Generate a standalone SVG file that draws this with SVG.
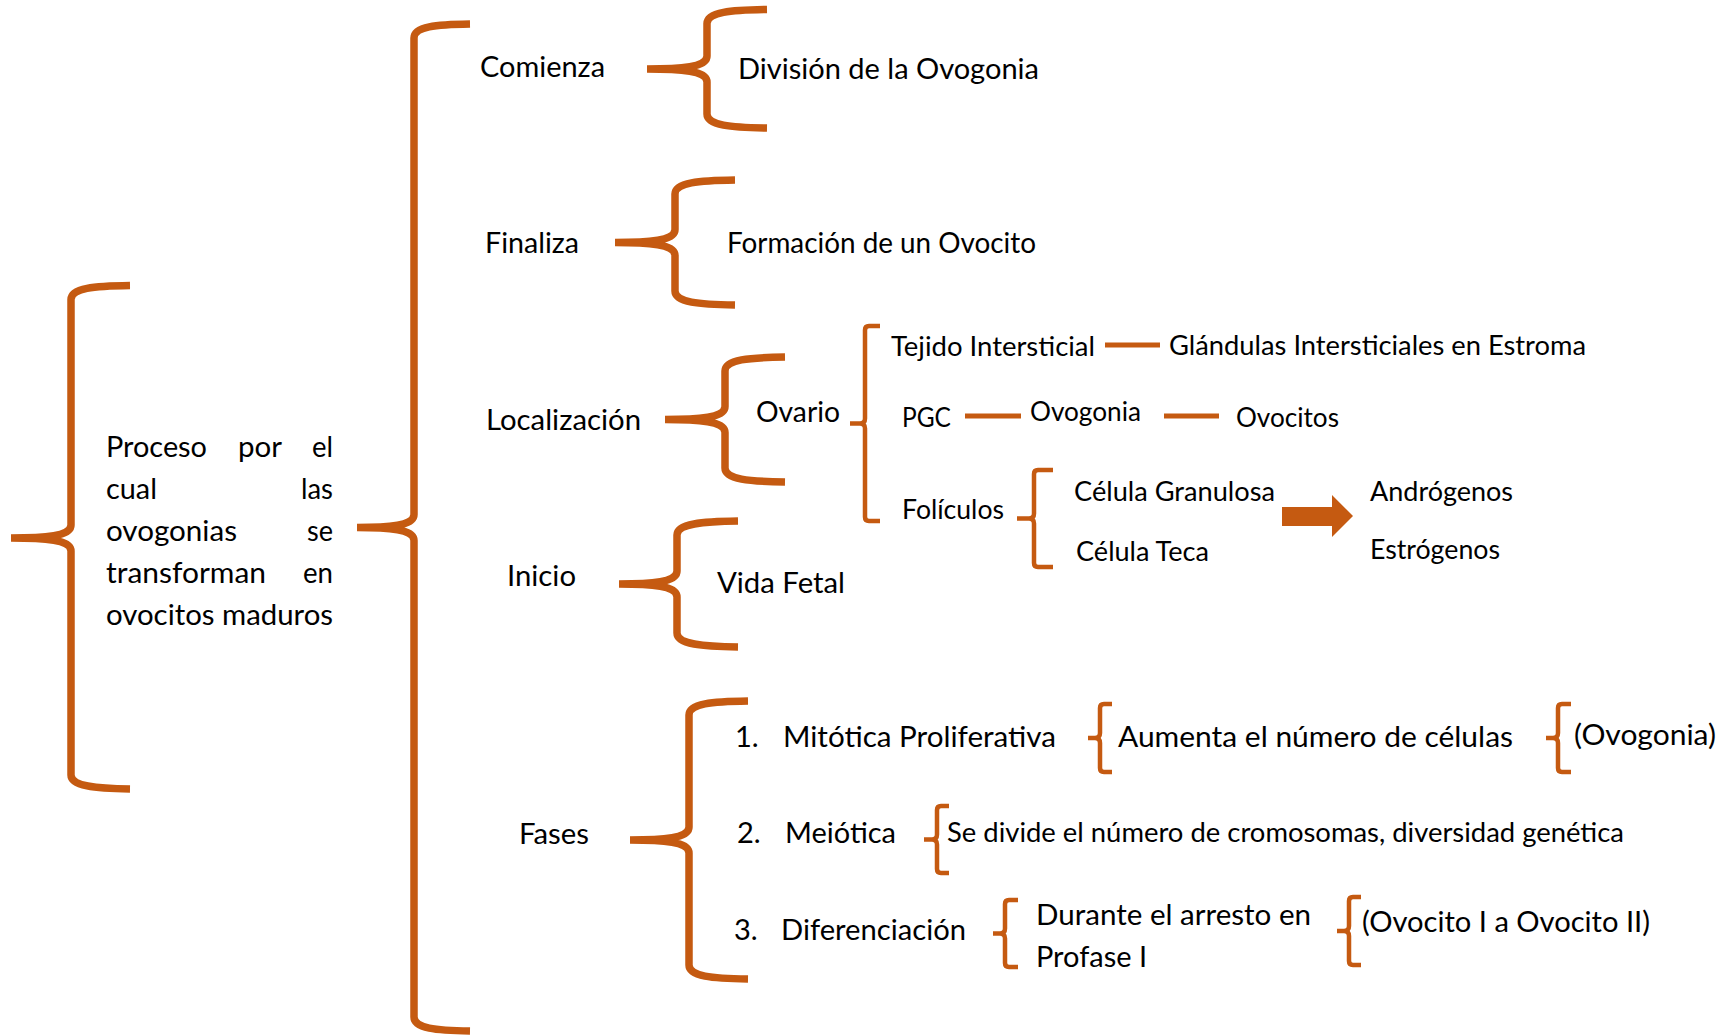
<svg xmlns="http://www.w3.org/2000/svg" width="1733" height="1036" viewBox="0 0 1733 1036">
<style>
.t{font-family:Lato,"Liberation Sans",Arial,sans-serif;font-size:28px;fill:#000}
.s{font-size:26px}
.f{font-size:29px}
.b{fill:none;stroke:#C55A11;stroke-width:7.5}
.n{fill:none;stroke:#C55A11;stroke-width:4.5}
.l{stroke:#C55A11;stroke-width:5}
.a{fill:#C55A11}
</style>
<rect width="1733" height="1036" fill="#fff"/>
<g id="connectors">
<path class="b" d="M130,285.5 C94,286 71,288 71,299.5 L71,525 C71,534 57,538 11,538 M11,538 C57,538 71,542 71,551 L71,775 C71,786 94,788.5 130,789"/>
<path class="b" d="M470,24 C436,24.5 414,26.5 414,38 L414,514.5 C414,523.5 400,527.5 357,527.5 M357,527.5 C400,527.5 414,531.5 414,540.5 L414,1017 C414,1028.5 436,1030.5 470,1031"/>
<path class="b" d="M767,9.5 C731,10 707,12 707,23.5 L707,56 C707,65 693,69 647,69 M647,69 C693,69 707,73 707,82 L707,114 C707,125.5 731,127.5 767,128"/>
<path class="b" d="M735,180 C699,180.5 675,182.5 675,194 L675,229.5 C675,238.5 661,242.5 615,242.5 M615,242.5 C661,242.5 675,246.5 675,255.5 L675,291 C675,302.5 699,304.5 735,305"/>
<path class="b" d="M785,357 C749,357.5 725,359.5 725,371 L725,406.5 C725,415.5 711,419.5 665,419.5 M665,419.5 C711,419.5 725,423.5 725,432.5 L725,468 C725,479.5 749,481.5 785,482"/>
<path class="b" d="M738,521 C702,521.5 677,523.5 677,535 L677,571 C677,580 663,584 619,584 M619,584 C663,584 677,588 677,597 L677,633 C677,644.5 702,646.5 738,647"/>
<path class="b" d="M748,701 C712,701.5 689,703.5 689,715 L689,827 C689,836 675,840 630,840 M630,840 C675,840 689,844 689,853 L689,965 C689,976.5 712,978.5 748,979"/>
<path class="n" d="M880,326 H869 Q865,326 865,330 V418.5 Q865,423.5 860,423.5 H850 M860,423.5 Q865,423.5 865,428.5 V517 Q865,521 869,521 H880"/>
<path class="n" d="M1053,470 H1038 Q1034,470 1034,474 V513.5 Q1034,518.5 1029,518.5 H1017 M1029,518.5 Q1034,518.5 1034,523.5 V563 Q1034,567 1038,567 H1053"/>
<path class="n" d="M1112,704 H1104 Q1100,704 1100,708 V733 Q1100,738 1095,738 H1088 M1095,738 Q1100,738 1100,743 V768 Q1100,772 1104,772 H1112"/>
<path class="n" d="M1571,704 H1562 Q1558,704 1558,708 V733 Q1558,738 1553,738 H1546 M1553,738 Q1558,738 1558,743 V768 Q1558,772 1562,772 H1571"/>
<path class="n" d="M949,806 H941 Q937,806 937,810 V834.5 Q937,839.5 932,839.5 H924 M932,839.5 Q937,839.5 937,844.5 V869 Q937,873 941,873 H949"/>
<path class="n" d="M1018,900 H1009 Q1005,900 1005,904 V928.5 Q1005,933.5 1000,933.5 H993 M1000,933.5 Q1005,933.5 1005,938.5 V963 Q1005,967 1009,967 H1018"/>
<path class="n" d="M1361,897 H1353 Q1349,897 1349,901 V926 Q1349,931 1344,931 H1337 M1344,931 Q1349,931 1349,936 V961 Q1349,965 1353,965 H1361"/>
<line class="l" x1="1105" y1="345" x2="1160" y2="345"/>
<line class="l" x1="965" y1="416" x2="1021" y2="416"/>
<line class="l" x1="1164" y1="416" x2="1219" y2="416"/>
<polygon class="a" points="1282,507 1332,507 1332,495 1353,516 1332,537 1332,526 1282,526"/>
</g>
<g id="node-proceso">
<text class="t" x="106" y="457" textLength="101" lengthAdjust="spacingAndGlyphs">Proceso</text>
<text class="t" x="238" y="457" textLength="44" lengthAdjust="spacingAndGlyphs">por</text>
<text class="t" x="312" y="457" textLength="21" lengthAdjust="spacingAndGlyphs">el</text>
<text class="t" x="106" y="499" textLength="51" lengthAdjust="spacingAndGlyphs">cual</text>
<text class="t" x="301" y="499" textLength="32" lengthAdjust="spacingAndGlyphs">las</text>
<text class="t" x="106" y="541" textLength="131" lengthAdjust="spacingAndGlyphs">ovogonias</text>
<text class="t" x="307" y="541" textLength="26" lengthAdjust="spacingAndGlyphs">se</text>
<text class="t" x="106" y="583" textLength="160" lengthAdjust="spacingAndGlyphs">transforman</text>
<text class="t" x="303" y="583" textLength="30" lengthAdjust="spacingAndGlyphs">en</text>
<text class="t" x="106" y="625" textLength="227" lengthAdjust="spacingAndGlyphs">ovocitos maduros</text>
</g>
<g id="node-comienza"><text class="t" x="480" y="77" textLength="125" lengthAdjust="spacingAndGlyphs">Comienza</text></g>
<g id="node-division"><text class="t" x="738" y="79" textLength="301" lengthAdjust="spacingAndGlyphs">División de la Ovogonia</text></g>
<g id="node-finaliza"><text class="t" x="485" y="253" textLength="94" lengthAdjust="spacingAndGlyphs">Finaliza</text></g>
<g id="node-formacion"><text class="t" x="727" y="253" textLength="309" lengthAdjust="spacingAndGlyphs">Formación de un Ovocito</text></g>
<g id="node-localizacion"><text class="t" x="486" y="430" textLength="155" lengthAdjust="spacingAndGlyphs">Localización</text></g>
<g id="node-ovario"><text class="t" x="756" y="422" textLength="84" lengthAdjust="spacingAndGlyphs">Ovario</text></g>
<g id="node-tejido"><text class="t s" x="891" y="356" textLength="204" lengthAdjust="spacingAndGlyphs">Tejido Intersticial</text></g>
<g id="node-glandulas"><text class="t s" x="1169" y="355" textLength="417" lengthAdjust="spacingAndGlyphs">Glándulas Intersticiales en Estroma</text></g>
<g id="node-pgc"><text class="t s" x="902" y="427" textLength="49" lengthAdjust="spacingAndGlyphs">PGC</text></g>
<g id="node-ovogonia"><text class="t s" x="1030" y="421" textLength="111" lengthAdjust="spacingAndGlyphs">Ovogonia</text></g>
<g id="node-ovocitos"><text class="t s" x="1236" y="427" textLength="103" lengthAdjust="spacingAndGlyphs">Ovocitos</text></g>
<g id="node-foliculos"><text class="t s" x="902" y="519" textLength="102" lengthAdjust="spacingAndGlyphs">Folículos</text></g>
<g id="node-granulosa"><text class="t s" x="1074" y="501" textLength="201" lengthAdjust="spacingAndGlyphs">Célula Granulosa</text></g>
<g id="node-teca"><text class="t s" x="1076" y="561" textLength="133" lengthAdjust="spacingAndGlyphs">Célula Teca</text></g>
<g id="node-androgenos"><text class="t s" x="1370" y="501" textLength="143" lengthAdjust="spacingAndGlyphs">Andrógenos</text></g>
<g id="node-estrogenos"><text class="t s" x="1370" y="559" textLength="130" lengthAdjust="spacingAndGlyphs">Estrógenos</text></g>
<g id="node-inicio"><text class="t" x="507" y="586" textLength="69" lengthAdjust="spacingAndGlyphs">Inicio</text></g>
<g id="node-vidafetal"><text class="t" x="717" y="593" textLength="128" lengthAdjust="spacingAndGlyphs">Vida Fetal</text></g>
<g id="node-fases"><text class="t" x="519" y="844" textLength="70" lengthAdjust="spacingAndGlyphs">Fases</text></g>
<g id="node-mitotica">
<text class="t f" x="735" y="747">1.</text>
<text class="t f" x="783" y="747" textLength="273" lengthAdjust="spacingAndGlyphs">Mitótica Proliferativa</text>
</g>
<g id="node-aumenta"><text class="t f" x="1118" y="747" textLength="395" lengthAdjust="spacingAndGlyphs">Aumenta el número de células</text></g>
<g id="node-ovogonia2"><text class="t f" x="1574" y="745" textLength="142" lengthAdjust="spacingAndGlyphs">(Ovogonia)</text></g>
<g id="node-meiotica">
<text class="t f" x="737" y="843">2.</text>
<text class="t f" x="785" y="843" textLength="111" lengthAdjust="spacingAndGlyphs">Meiótica</text>
</g>
<g id="node-sedivide"><text class="t s" x="947" y="842" textLength="677" lengthAdjust="spacingAndGlyphs">Se divide el número de cromosomas, diversidad genética</text></g>
<g id="node-diferenciacion">
<text class="t f" x="734" y="940">3.</text>
<text class="t f" x="781" y="940" textLength="185" lengthAdjust="spacingAndGlyphs">Diferenciación</text>
</g>
<g id="node-durante">
<text class="t" x="1036" y="925" textLength="275" lengthAdjust="spacingAndGlyphs">Durante el arresto en</text>
<text class="t" x="1036" y="967" textLength="111" lengthAdjust="spacingAndGlyphs">Profase I</text>
</g>
<g id="node-ovocito12"><text class="t" x="1362" y="932" textLength="288" lengthAdjust="spacingAndGlyphs">(Ovocito I a Ovocito II)</text></g>
</svg>
